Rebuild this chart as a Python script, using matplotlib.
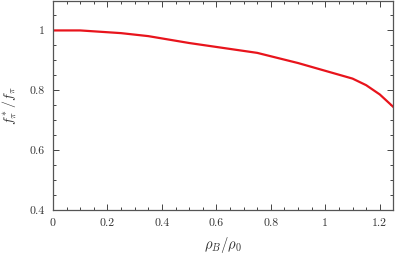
import matplotlib
matplotlib.use("Agg")
import matplotlib.pyplot as plt
from matplotlib.ticker import MultipleLocator, FuncFormatter

# density ratio vs in-medium pion decay constant ratio
rho = [0, 0.1, 0.25, 0.35, 0.5, 0.75, 0.9, 1.0, 1.1, 1.15, 1.2, 1.25]
fpi = [1.0, 1.0, 0.991, 0.981, 0.958, 0.925, 0.891, 0.865, 0.839, 0.817, 0.786, 0.744]

plt.rcParams["font.family"] = "serif"
plt.rcParams["font.serif"] = ["cmr10", "DejaVu Serif"]
plt.rcParams["mathtext.fontset"] = "cm"
plt.rcParams["axes.formatter.use_mathtext"] = True

fig = plt.figure(figsize=(3.95, 2.57), dpi=100)
ax = fig.add_axes([0.134, 0.183, 0.862, 0.815])
ax.plot(rho, fpi, color="#e8141c", lw=1.6)

ax.set_xlim(0, 1.25)
ax.set_ylim(0.4, 1.1)
ax.xaxis.set_major_locator(MultipleLocator(0.2))
ax.xaxis.set_minor_locator(MultipleLocator(0.05))
ax.yaxis.set_major_locator(MultipleLocator(0.2))
ax.yaxis.set_minor_locator(MultipleLocator(0.05))
fmt = FuncFormatter(lambda v, p: "%g" % round(v, 3))
ax.xaxis.set_major_formatter(fmt)
ax.yaxis.set_major_formatter(fmt)
ax.tick_params(which="both", direction="in", top=True, right=True, colors="#444444",
               labelcolor="#333333", labelsize=8.5, width=0.7)
ax.tick_params(which="major", length=4, pad=6)
ax.tick_params(which="minor", length=2.5)
for s in ax.spines.values():
    s.set_color("#555555")
    s.set_linewidth(0.9)

ax.set_xlabel(r"$\rho_B/\rho_0$", fontsize=10.5, color="#333333", labelpad=5)
ax.set_ylabel(r"$f_\pi^*/f_\pi$", fontsize=10, color="#333333", labelpad=7)

fig.savefig("out.png", dpi=100)
